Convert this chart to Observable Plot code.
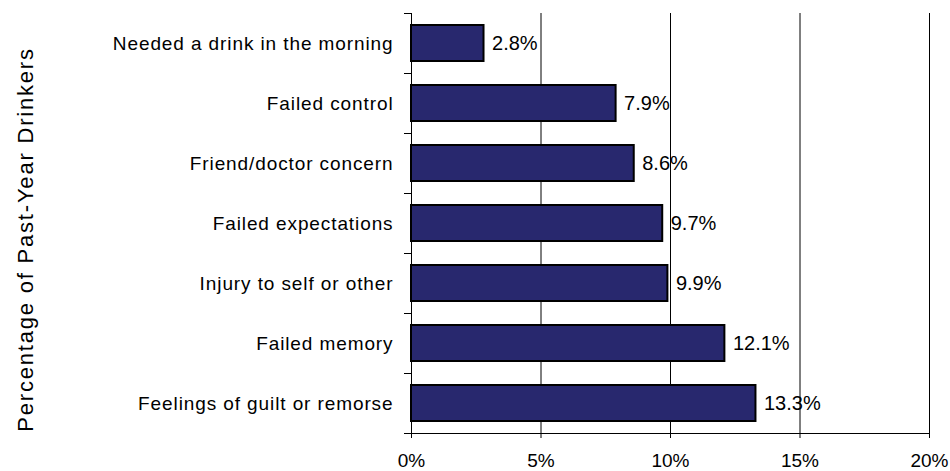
<!DOCTYPE html>
<html>
<head>
<meta charset="utf-8">
<script src="https://cdn.jsdelivr.net/npm/d3@7"></script>
<script src="https://cdn.jsdelivr.net/npm/@observablehq/plot@0.6"></script>
<style>
  html, body { margin: 0; padding: 0; background: #fff; }
</style>
</head>
<body>
<div id="chart"></div>
<script>
const categories = [
  "Needed a drink in the morning",
  "Failed control",
  "Friend/doctor concern",
  "Failed expectations",
  "Injury to self or other",
  "Failed memory",
  "Feelings of guilt or remorse"
];
const values = [2.8, 7.9, 8.6, 9.7, 9.9, 12.1, 13.3];
const xTicks = [0, 5, 10, 15, 20];
const gridTicks = [5, 10, 15, 20];
const yTitle = "Percentage of Past-Year Drinkers";

const data = categories.map((c, i) => ({category: c, value: values[i]}));

const W = 950, H = 471;
const mTop = 13, mBottom = 38, mLeft = 411, mRight = 21;
const step = (H - mTop - mBottom) / categories.length;

const chart = Plot.plot({
  width: W,
  height: H,
  marginTop: mTop,
  marginBottom: mBottom,
  marginLeft: mLeft,
  marginRight: mRight,
  style: {fontFamily: "Arial, 'Liberation Sans', sans-serif", color: "#000", background: "#fff", overflow: "visible"},
  x: {domain: [0, 20]},
  y: {domain: categories, paddingInner: 0.4, paddingOuter: 0.2},
  marks: [
    Plot.ruleX(gridTicks, {stroke: "#000", strokeWidth: 1}),
    Plot.barX(data, {x: "value", y: "category", fill: "#28286E", stroke: "#000", strokeWidth: 2}),
    Plot.text(data, {x: "value", y: "category", text: d => d.value.toFixed(1) + "%", textAnchor: "start", dx: 8, fontSize: 20, fill: "#000"}),
    Plot.frame({anchor: "left", stroke: "#000"}),
    Plot.frame({anchor: "bottom", stroke: "#000"}),
    Plot.axisX({ticks: xTicks, tickFormat: d => d + "%", tickSize: 5, tickPadding: 15, fontSize: 19, label: null, stroke: "#000"}),
    Plot.axisY({tickSize: 0, tickPadding: 18, fontSize: 19, label: null}),
    Plot.axisY({ticks: categories, tickSize: 7, tickFormat: () => "", label: null, dy: -step / 2, stroke: "#000"}),
    Plot.axisY({ticks: categories.slice(-1), tickSize: 7, tickFormat: () => "", label: null, dy: step / 2, stroke: "#000"}),
    Plot.text([yTitle], {frameAnchor: "left", text: d => d, rotate: -90, dx: 25 - mLeft, dy: 16, fontSize: 22, lineAnchor: "middle", textAnchor: "middle", fill: "#000"})
  ]
});
document.getElementById("chart").appendChild(chart);

// Widen letter spacing to match the reference's text extents
const svg = d3.select(chart);
svg.selectAll("text").each(function() {
  const t = this.textContent;
  if (t === yTitle) d3.select(this).style("letter-spacing", "1.8px");
  else if (categories.includes(t)) d3.select(this).style("letter-spacing", "0.9px");
});
</script>
</body>
</html>
